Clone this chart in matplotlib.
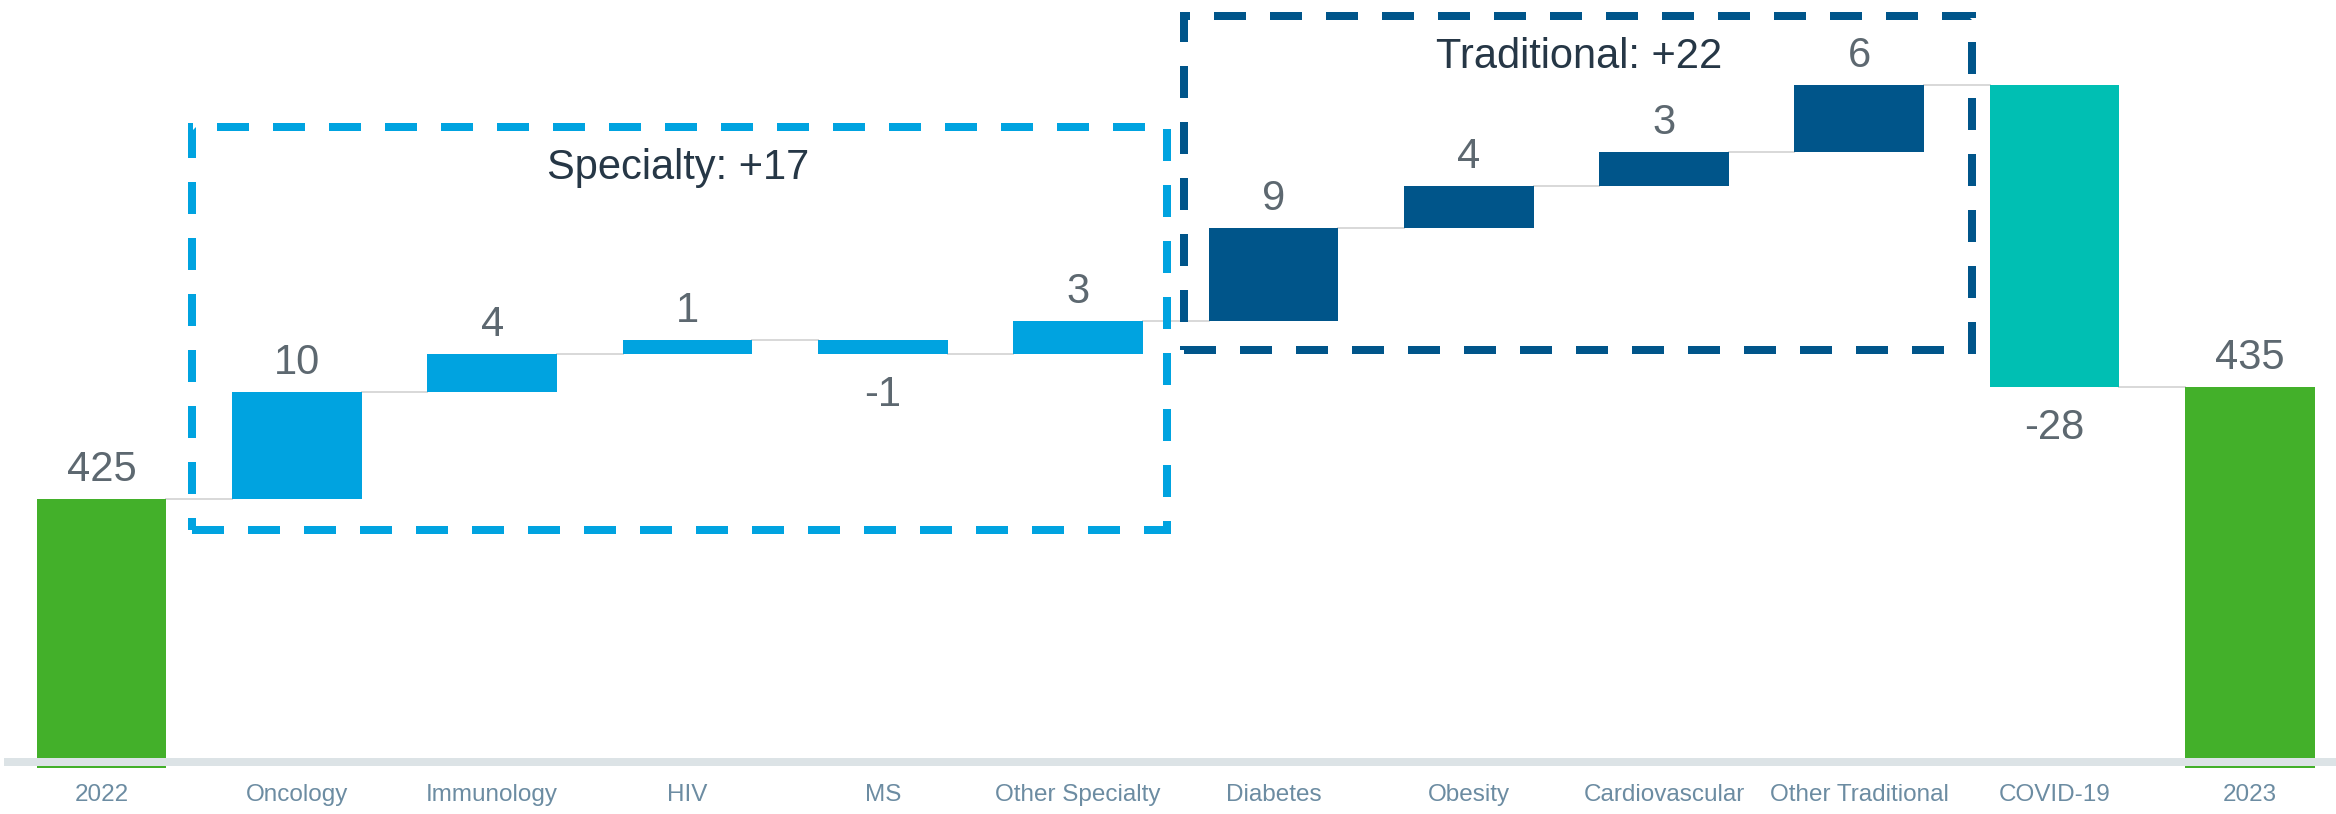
import matplotlib.pyplot as plt
from matplotlib.patches import Rectangle

plt.rcParams["font.family"] = ["Liberation Sans", "DejaVu Sans"]

categories = ["2022", "Oncology", "Immunology", "HIV", "MS", "Other Specialty",
              "Diabetes", "Obesity", "Cardiovascular", "Other Traditional",
              "COVID-19", "2023"]
start_total = 424.8
specialty = [10.0, 3.6, 1.3, -1.3, 3.1]
traditional = [8.7, 3.9, 3.2, 6.2]
covid = [-28.2]

GREEN = "#43b02a"
LIGHT_BLUE = "#00a3e0"
DARK_BLUE = "#00558a"
TEAL = "#00bfb3"
VALUE_GREY = "#5d6870"
LABEL_GREY = "#6c8ca2"
TITLE_DARK = "#263746"

changes = specialty + traditional + covid
change_colors = [LIGHT_BLUE] * len(specialty) + [DARK_BLUE] * len(traditional) + [TEAL]
end_total = start_total + sum(changes)

DPI = 100
fig = plt.figure(figsize=(23.36, 8.14), dpi=DPI)
ax = fig.add_axes([0, 46 / 814, 1, 768 / 814])
px = 72 / DPI  # points per pixel

width = 0.664
ax.set_xlim(-0.52, 11.441)
ax.set_ylim(399.69, 471.47)


def label(x, y, text, below=False):
    if below:
        ax.annotate(text, (x, y), xytext=(0, -21 * px), textcoords="offset points",
                    ha="center", va="top", fontsize=30, color=VALUE_GREY)
    else:
        ax.annotate(text, (x, y), xytext=(0, 18 * px), textcoords="offset points",
                    ha="center", va="baseline", fontsize=30, color=VALUE_GREY)


# opening total
ax.bar(0, start_total, width=width, color=GREEN, zorder=2)
label(0, start_total, f"{start_total:.0f}")

level = start_total
for i, (c, col) in enumerate(zip(changes, change_colors), start=1):
    # connector from previous bar
    ax.plot([i - 1 + width / 2, i - width / 2], [level, level],
            color="#d9d9d9", lw=2 * px, zorder=1)
    ax.bar(i, abs(c), bottom=min(level, level + c), width=width, color=col, zorder=2)
    new_level = level + c
    if c >= 0:
        label(i, new_level, f"{c:.0f}")
    else:
        label(i, new_level, f"{c:.0f}", below=True)
    level = new_level

n = len(categories) - 1
ax.plot([n - 1 + width / 2, n - width / 2], [level, level],
        color="#d9d9d9", lw=2 * px, zorder=1)
ax.bar(n, end_total, width=width, color=GREEN, zorder=2)
label(n, end_total, f"{end_total:.0f}")

# baseline
ax.plot([-0.5, 11.5], [400.26, 400.26], color="#dce3e6", lw=8 * px,
        solid_capstyle="butt", zorder=3)

# group boxes
ax.add_patch(Rectangle((0.463, 421.98), 5.456 - 0.463, 459.6 - 421.98,
                       fill=False, edgecolor=LIGHT_BLUE, lw=8 * px,
                       linestyle=(0, (4, 3)), zorder=4))
ax.add_patch(Rectangle((5.544, 438.73), 9.578 - 5.544, 469.99 - 438.73,
                       fill=False, edgecolor=DARK_BLUE, lw=8 * px,
                       linestyle=(0, (4, 3)), zorder=4))
ax.text(2.953, 454.74, f"Specialty: +{sum(specialty):.0f}", ha="center",
        va="baseline", fontsize=30, color=TITLE_DARK)
ax.text(7.565, 465.1, f"Traditional: +{sum(traditional):.0f}", ha="center",
        va="baseline", fontsize=30, color=TITLE_DARK)

ax.set_xticks(range(len(categories)))
ax.set_xticklabels(categories, fontsize=17.5, color=LABEL_GREY)
ax.tick_params(axis="x", length=0, pad=11.5)
ax.set_yticks([])
for s in ax.spines.values():
    s.set_visible(False)

fig.savefig("out.png", dpi=DPI)
